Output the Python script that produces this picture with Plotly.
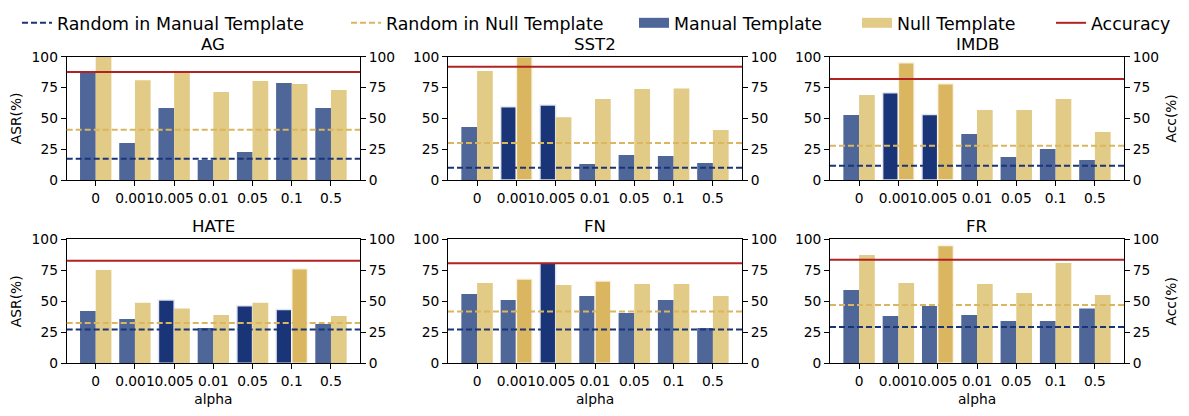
import plotly.graph_objects as go

W, H = 1189, 416

alphas = ["0", "0.001", "0.005", "0.01", "0.05", "0.1", "0.5"]
datasets = ["AG", "SST2", "IMDB", "HATE", "FN", "FR"]

ag_manual = [88, 30, 58.4, 16.2, 22.7, 78.6, 58.4]
ag_null = [100, 81, 88, 71.4, 80.3, 77.8, 73]
sst2_manual = [43, 59.5, 60.8, 13, 20.3, 19.5, 13.8]
sst2_null = [88.4, 100, 50.8, 65.7, 73.8, 74.3, 40.5]
imdb_manual = [52.7, 70.8, 53.2, 37.3, 18.6, 25.1, 16.2]
imdb_null = [68.9, 95.1, 78.1, 56.8, 56.8, 65.7, 38.9]
hate_manual = [42.2, 35.8, 51.1, 28.5, 46.5, 43.3, 31.7]
hate_null = [75.3, 48.9, 44.1, 39, 48.9, 76.3, 38.2]
fn_manual = [55.9, 51.1, 80.6, 54.3, 40.6, 51.1, 28.5]
fn_null = [64.8, 68, 63.2, 66.4, 64, 64, 54.3]
fr_manual = [59.1, 38.2, 46.2, 39, 34.1, 34.1, 44.1]
fr_null = [87.4, 64.8, 94.9, 64, 56.7, 80.9, 55.1]

random_manual = [17.3, 10, 11.6, 27.2, 27.2, 29.3]
random_null = [40.8, 30, 27.8, 32.5, 41.7, 47]
accuracy = [87.6, 91.9, 81.9, 82.8, 80.6, 83.6]

# which alpha positions are emphasised in each panel
manual_hl = {"AG": [], "SST2": [1, 2], "IMDB": [1, 2], "HATE": [2, 4, 5], "FN": [2], "FR": []}
null_hl = {"AG": [], "SST2": [1], "IMDB": [1, 2], "HATE": [5], "FN": [1, 3], "FR": [2]}

manual_vals = [ag_manual, sst2_manual, imdb_manual, hate_manual, fn_manual, fr_manual]
null_vals = [ag_null, sst2_null, imdb_null, hate_null, fn_null, fr_null]

BLUE, BLUE_L = "#1a3478", "#4f6699"
GOLD, GOLD_L = "#d9b65f", "#e2ca87"
RED = "#b22222"
FONT = "DejaVu Sans"

# axes boxes in pixels: (left, right) columns and (top, bottom) rows
cols = [(66.7, 360), (448, 742), (830, 1124)]
rows = [(56.7, 180), (239.3, 363.3)]

def sfx(n):
    return "" if n == 1 else str(n)

fig = go.Figure()
layout = dict(
    width=W, height=H, margin=dict(l=0, r=0, t=0, b=0, autoexpand=False),
    paper_bgcolor="white", plot_bgcolor="white",
    barmode="group", bargap=0.2, bargroupgap=0,
    font=dict(family=FONT, size=13.8, color="black"),
    showlegend=True,
)
shapes, annotations = [], []

for i, name in enumerate(datasets):
    r, c = divmod(i, 3)
    n = i + 1
    xa, ya, yr = f"x{sfx(n)}", f"y{sfx(n)}", f"y{n + 6}"
    (x0, x1), (t0, t1) = cols[c], rows[r]
    xdom = [x0 / W, x1 / W]
    ydom = [1 - t1 / H, 1 - t0 / H]

    mcol = [BLUE if k in manual_hl[name] else BLUE_L for k in range(len(alphas))]
    ncol = [GOLD if k in null_hl[name] else GOLD_L for k in range(len(alphas))]
    mlw = [1.5 if k in manual_hl[name] else 0 for k in range(len(alphas))]
    nlw = [1.5 if k in null_hl[name] else 0 for k in range(len(alphas))]

    fig.add_trace(go.Bar(x=alphas, y=manual_vals[i], xaxis=xa, yaxis=ya, showlegend=False,
                         marker=dict(color=mcol, line=dict(color="rgba(232,234,245,0.95)", width=mlw))))
    fig.add_trace(go.Bar(x=alphas, y=null_vals[i], xaxis=xa, yaxis=ya, showlegend=False,
                         marker=dict(color=ncol, line=dict(color="rgba(250,246,232,0.95)", width=nlw))))

    ax_common = dict(showline=True, linecolor="black", linewidth=1, ticks="outside",
                     ticklen=5, tickcolor="black", showgrid=False, zeroline=False,
                     tickfont=dict(size=13.8, family=FONT))
    layout[f"xaxis{sfx(n)}"] = dict(domain=xdom, anchor=ya, type="category", range=[-0.74, 6.74],
                                    mirror=True, tickangle=0, **ax_common,
                                    title=dict(text="alpha" if r == 1 else "", font=dict(size=13.8), standoff=6))
    layout[f"yaxis{sfx(n)}"] = dict(domain=ydom, anchor=xa, range=[0, 100], tickvals=[0, 25, 50, 75, 100],
                                    **ax_common,
                                    title=dict(text="ASR(%)" if c == 0 else "", font=dict(size=13.8), standoff=6))
    layout[f"yaxis{n + 6}"] = dict(domain=ydom, anchor=xa, overlaying=ya, side="right", range=[0, 100],
                                   tickvals=[0, 25, 50, 75, 100], **ax_common,
                                   title=dict(text="Acc(%)" if c == 2 else "", font=dict(size=13.8), standoff=8))

    dom = f"{xa} domain"
    shapes.append(dict(type="line", xref=dom, x0=0, x1=1, yref=yr, y0=accuracy[i], y1=accuracy[i],
                       line=dict(color=RED, width=2)))
    shapes.append(dict(type="line", xref=dom, x0=0, x1=1, yref=ya, y0=random_null[i], y1=random_null[i],
                       line=dict(color=GOLD, width=2, dash="6px,3px")))
    shapes.append(dict(type="line", xref=dom, x0=0, x1=1, yref=ya, y0=random_manual[i], y1=random_manual[i],
                       line=dict(color=BLUE, width=2, dash="6px,3px")))

    annotations.append(dict(text=name, xref="paper", yref="paper", x=(xdom[0] + xdom[1]) / 2,
                            y=ydom[1], yanchor="bottom", xanchor="center", yshift=1,
                            showarrow=False, font=dict(size=16.6, family=FONT)))

# legend entries, one legend box each so they spread like the original
legend_items = [
    ("Random in Manual Template", dict(color=BLUE, width=2, dash="6px,3px"), 57),
    ("Random in Null Template", dict(color=GOLD, width=2, dash="6px,3px"), 386),
    ("Manual Template", dict(color=BLUE_L, width=14), 674),
    ("Null Template", dict(color=GOLD_L, width=14), 897),
    ("Accuracy", dict(color=RED, width=2), 1091),
]
for k, (label, line, tx) in enumerate(legend_items):
    lg = "legend" if k == 0 else f"legend{k + 1}"
    fig.add_trace(go.Scatter(x=[None], y=[None], mode="lines", name=label, line=line,
                             xaxis="x", yaxis="y", legend=lg, showlegend=True))
    layout[lg] = dict(x=(tx - 40) / W, y=1 - 23 / H, xanchor="left", yanchor="middle",
                      orientation="h", bgcolor="rgba(0,0,0,0)", borderwidth=0,
                      font=dict(size=17.4, family=FONT))

layout["shapes"] = shapes
layout["annotations"] = annotations
fig.update_layout(**layout)
# page body has a default 8px margin; drop it so the figure sits at the window corner
fig.write_html("out.html", config={"displayModeBar": False},
               post_script="document.body.style.margin='0';")
